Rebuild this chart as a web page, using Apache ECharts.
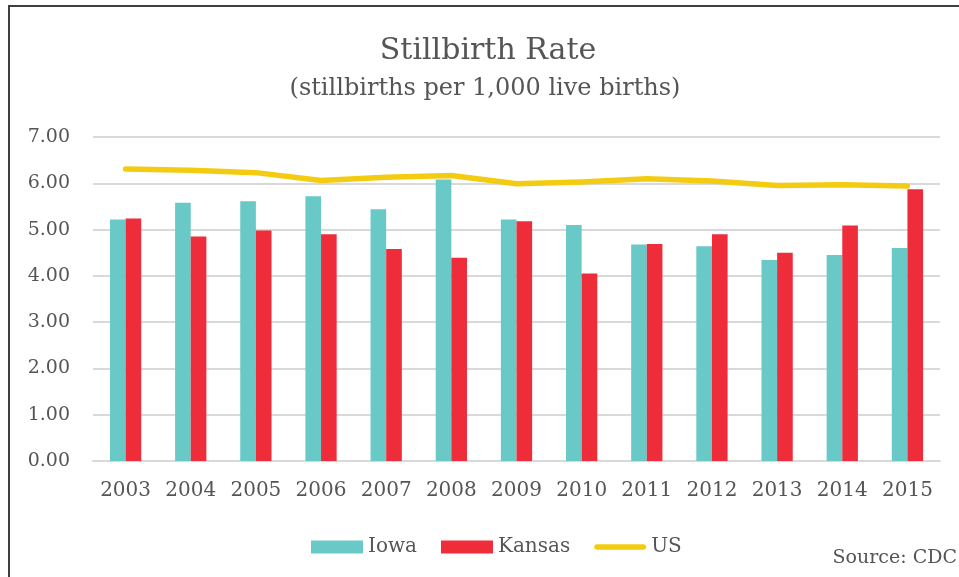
<!DOCTYPE html>
<html>
<head>
<meta charset="utf-8">
<script src="https://cdn.jsdelivr.net/npm/echarts@6/dist/echarts.min.js"></script>
<style>
html,body{margin:0;padding:0;background:#fff;}
#chart{width:959px;height:577px;}
</style>
</head>
<body>
<div id="chart"></div>
<script>
const categories = ['2003','2004','2005','2006','2007','2008','2009','2010','2011','2012','2013','2014','2015'];
const iowa   = [5.22, 5.58, 5.61, 5.72, 5.44, 6.08, 5.22, 5.10, 4.68, 4.64, 4.34, 4.45, 4.60];
const kansas = [5.24, 4.85, 4.98, 4.90, 4.58, 4.39, 5.18, 4.05, 4.69, 4.90, 4.50, 5.09, 5.87];
const us     = [6.31, 6.28, 6.23, 6.06, 6.13, 6.17, 5.99, 6.03, 6.10, 6.05, 5.95, 5.97, 5.94];
const yTicks = { min: 0, max: 7, interval: 1 };

const FONT = '"DejaVu Serif", serif';
const TXT = '#555555';

const chart = echarts.init(document.getElementById('chart'), null, { renderer: 'canvas' });
chart.setOption({
  animation: false,
  backgroundColor: '#ffffff',
  textStyle: { fontFamily: FONT },
  graphic: [
    { type: 'rect', shape: { x: 9, y: 6, width: 1200, height: 1200 }, style: { fill: 'none', stroke: '#3f3f3f', lineWidth: 2 } },
    { type: 'text', x: 488, y: 51, style: { text: 'Stillbirth Rate', font: '30px ' + FONT, fill: TXT, textAlign: 'center', textVerticalAlign: 'middle' } },
    { type: 'text', x: 485, y: 89, style: { text: '(stillbirths per 1,000 live births)', font: '24px ' + FONT, fill: TXT, textAlign: 'center', textVerticalAlign: 'middle' } },
    { type: 'text', x: 957, y: 558, style: { text: 'Source: CDC', font: '19px ' + FONT, fill: TXT, textAlign: 'right', textVerticalAlign: 'middle' } }
  ],
  grid: { left: 93, right: 19, top: 137, bottom: 116, containLabel: false },
  legend: {
    left: 306, top: 532,
    itemWidth: 52, itemHeight: 13, itemGap: 24,
    textStyle: { fontFamily: FONT, fontSize: 20, color: TXT },
    data: [
      { name: 'Iowa', icon: 'rect' },
      { name: 'Kansas', icon: 'rect' },
      { name: 'US', icon: 'path://M3,0 L53,0 A3,3 0 0 1 53,6 L3,6 A3,3 0 0 1 3,0 Z' }
    ]
  },
  xAxis: {
    type: 'category',
    data: categories,
    axisLine: { show: true, lineStyle: { color: '#d9d9d9', width: 2 } },
    axisTick: { show: false },
    axisLabel: { color: TXT, fontFamily: FONT, fontSize: 20, margin: 20, interval: 0 },
    splitLine: { show: false }
  },
  yAxis: {
    type: 'value',
    min: yTicks.min, max: yTicks.max, interval: yTicks.interval,
    axisLine: { show: false },
    axisTick: { show: false },
    axisLabel: { color: TXT, fontFamily: FONT, fontSize: 19, margin: 23, formatter: v => v.toFixed(2) },
    splitLine: { lineStyle: { color: '#d9d9d9', width: 2 } }
  },
  series: [
    { name: 'Iowa', type: 'bar', data: iowa, barGap: '0%', barCategoryGap: '52%', itemStyle: { color: '#69C9C7' } },
    { name: 'Kansas', type: 'bar', data: kansas, barGap: '0%', barCategoryGap: '52%', itemStyle: { color: '#EF2D3A' } },
    { name: 'US', type: 'line', data: us, symbol: 'none', showSymbol: false, z: 5,
      lineStyle: { color: '#F3CC12', width: 5.5, cap: 'round', join: 'round' }, itemStyle: { color: '#F3CC12' } }
  ]
});
</script>
</body>
</html>
